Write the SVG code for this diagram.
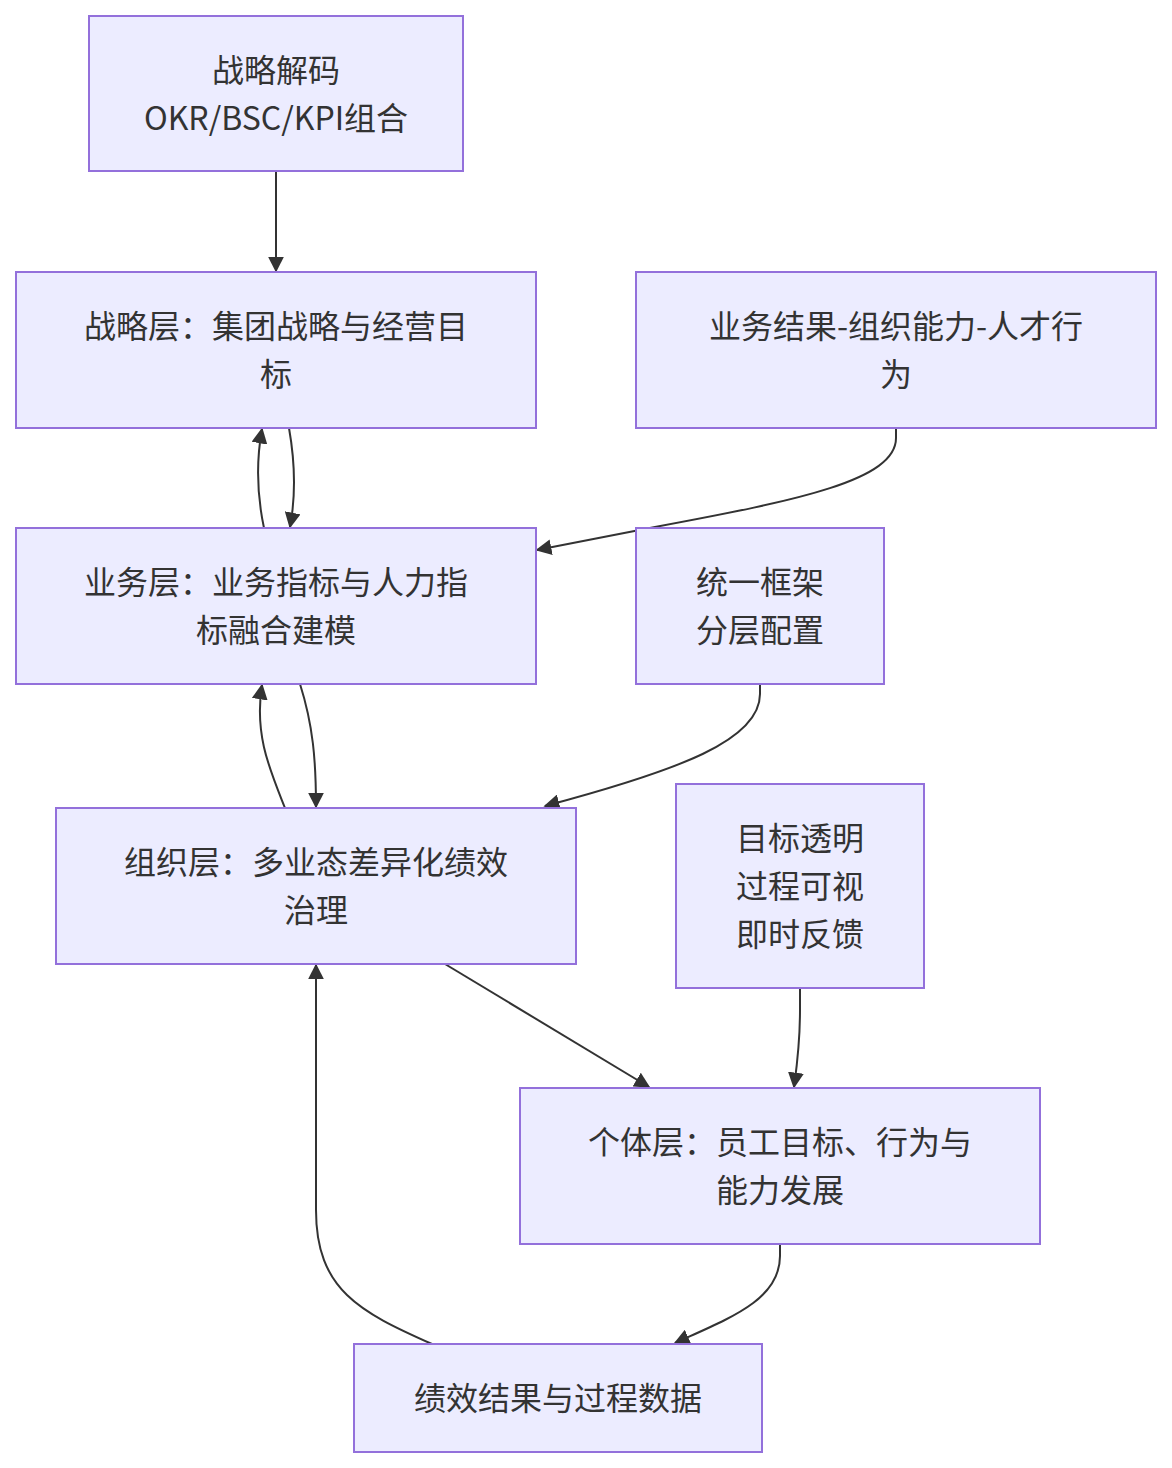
<svg xmlns="http://www.w3.org/2000/svg" width="1172" height="1468" viewBox="0 0 1172 1468">
<style>
.node rect{fill:#ECECFF;stroke:#9370DB;stroke-width:2}
.node text{font-family:"Noto Sans CJK SC","Noto Sans",sans-serif;font-size:32px;fill:#333;text-anchor:middle;dominant-baseline:central}
.edges path{fill:none;stroke:#333;stroke-width:2}
</style>
<defs>
<marker id="arr" viewBox="0 0 10 10" refX="9" refY="5" markerWidth="16" markerHeight="16" markerUnits="userSpaceOnUse" orient="auto">
<path d="M0,0 L10,5 L0,10 z" fill="#333"/>
</marker>
</defs>
<rect width="1172" height="1468" fill="#fff"/>
<g class="edges">
<path d="M276,171 V271" marker-end="url(#arr)"/>
<path d="M264,528 C257,495 256,462 262,429" marker-end="url(#arr)"/>
<path d="M289,428 C295,462 296,495 290,527" marker-end="url(#arr)"/>
<path d="M285,808 C270,770 254,735 262,685" marker-end="url(#arr)"/>
<path d="M300,684 C313,725 316,760 316,807" marker-end="url(#arr)"/>
<path d="M896,428 V438 C896,480 800,500 655,527 L537,550" marker-end="url(#arr)"/>
<path d="M760,684 V694 C760,740 680,770 545,806" marker-end="url(#arr)"/>
<path d="M445,964 L649,1087" marker-end="url(#arr)"/>
<path d="M800,988 V1010 C800,1045 797,1065 794,1087" marker-end="url(#arr)"/>
<path d="M780,1244 V1256 C780,1300 730,1318 675,1343" marker-end="url(#arr)"/>
<path d="M432,1344 C360,1312 316,1290 316,1210 V965" marker-end="url(#arr)"/>
</g>
<g id="n1" class="node"><rect x="89" y="16" width="374" height="155"/><text x="276" y="68">战略解码</text><text x="276" y="116">OKR/BSC/KPI组合</text></g>
<g id="n2" class="node"><rect x="16" y="272" width="520" height="156"/><text x="276" y="324">战略层：集团战略与经营目</text><text x="276" y="372">标</text></g>
<g id="n3" class="node"><rect x="636" y="272" width="520" height="156"/><text x="896" y="324">业务结果-组织能力-人才行</text><text x="896" y="372">为</text></g>
<g id="n4" class="node"><rect x="16" y="528" width="520" height="156"/><text x="276" y="580">业务层：业务指标与人力指</text><text x="276" y="628">标融合建模</text></g>
<g id="n5" class="node"><rect x="636" y="528" width="248" height="156"/><text x="760" y="580">统一框架</text><text x="760" y="628">分层配置</text></g>
<g id="n6" class="node"><rect x="56" y="808" width="520" height="156"/><text x="316" y="860">组织层：多业态差异化绩效</text><text x="316" y="908">治理</text></g>
<g id="n7" class="node"><rect x="676" y="784" width="248" height="204"/><text x="800" y="836">目标透明</text><text x="800" y="884">过程可视</text><text x="800" y="932">即时反馈</text></g>
<g id="n8" class="node"><rect x="520" y="1088" width="520" height="156"/><text x="780" y="1140">个体层：员工目标、行为与</text><text x="780" y="1188">能力发展</text></g>
<g id="n9" class="node"><rect x="354" y="1344" width="408" height="108"/><text x="558" y="1396">绩效结果与过程数据</text></g>
</svg>
